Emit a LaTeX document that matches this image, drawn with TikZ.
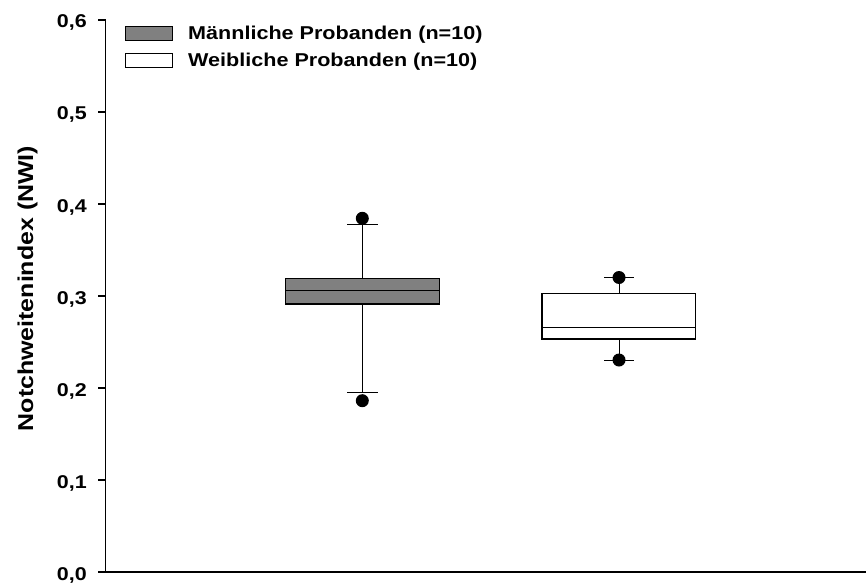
\documentclass[tikz,border=0pt]{standalone}
\usepackage{fontspec}
\setmainfont{Liberation Sans}
\newfontfamily\widesans[FakeStretch=1.16]{Liberation Sans}
\definecolor{boxgray}{HTML}{808080}
\begin{document}
\begin{tikzpicture}[x=1pt,y=-1pt,
  axis/.style={line width=1.6pt,black},
  tick/.style={line width=1.4pt,black},
  ticklabel/.style={anchor=base east,font=\widesans\fontsize{18.5}{20}\selectfont\bfseries,inner sep=0pt},
  boxm/.style={draw=black,fill=boxgray,line width=1.2pt},
  boxf/.style={draw=black,fill=white,line width=1.2pt},
  whisk/.style={line width=0.9pt,black},
  dot/.style={fill=black},
  legtext/.style={anchor=base west,font=\widesans\fontsize{18.6}{20}\selectfont\bfseries,inner sep=0pt}]
\useasboundingbox (0,0) rectangle (866,583);
% axes
\draw[axis] (105.5,20) -- (105.5,572) -- (866,572);
\foreach \v/\lab in {0/0,1/1,2/2,3/3,4/4,5/5,6/6}{
  \pgfmathsetmacro{\yy}{572-92*\v}
  \draw[tick] (98,\yy) -- (105.5,\yy);
  \node[ticklabel] (t\v) at (87,\yy+8) {0,\lab};
}
\node[rotate=90,anchor=base,inner sep=0pt,font=\widesans\fontsize{21.5}{23}\selectfont\bfseries] (ylab) at (33,288.5) {Notchweitenindex (NWI)};
% legend
\draw[boxm,line width=1pt] (125,27) rectangle (172,41);
\node[legtext] (lm) at (188,40) {Männliche Probanden (n=10)};
\draw[boxf,line width=1pt] (125,54) rectangle (172,68);
\node[legtext] (lf) at (188,67) {Weibliche Probanden (n=10)};
% male box
\draw[whisk] (362.3,278.7) -- (362.3,224.7);
\draw[whisk] (347.3,224.7) -- (378.3,224.7);
\draw[whisk] (362.3,304) -- (362.3,392);
\draw[whisk] (347.3,392) -- (378.3,392);
\draw[boxm] (285.7,278.7) rectangle (439.3,304);
\draw[line width=1.2pt] (285.7,290.5) -- (439.3,290.5);
\fill[dot] (362.3,218.3) circle (6.5);
\fill[dot] (362.3,400.7) circle (6.5);
% female box
\draw[whisk] (619,293.7) -- (619,277.5);
\draw[whisk] (604,277.5) -- (634.3,277.5);
\draw[whisk] (619,339) -- (619,360);
\draw[whisk] (604,360) -- (634.3,360);
\draw[boxf] (542,293.7) rectangle (695.7,339);
\draw[line width=0.9pt] (542,327.3) -- (695.7,327.3);
\fill[dot] (619,277.5) circle (6.5);
\fill[dot] (619,360) circle (6.5);
\end{tikzpicture}
\end{document}
